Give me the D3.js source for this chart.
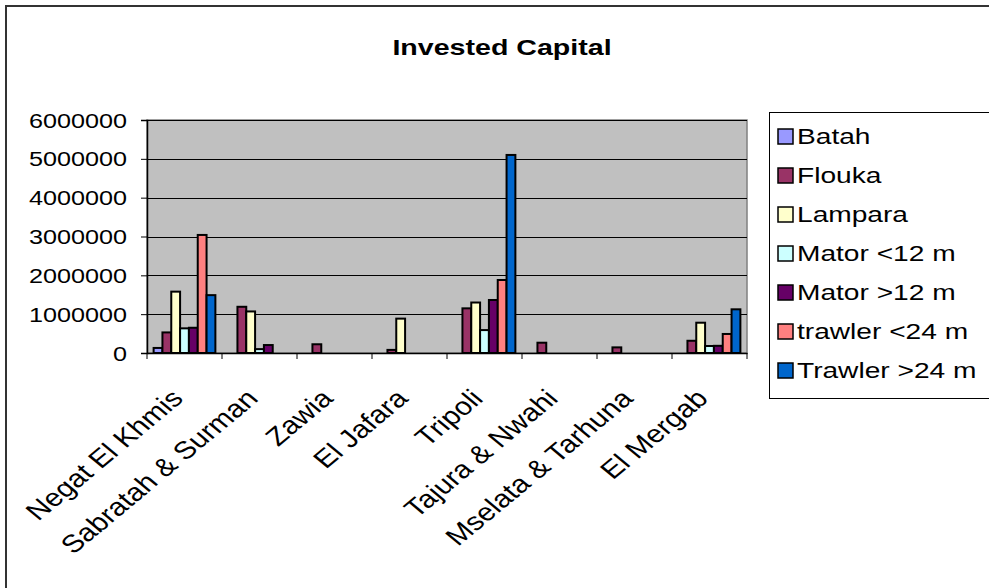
<!DOCTYPE html>
<html>
<head>
<meta charset="utf-8">
<script src="https://cdn.jsdelivr.net/npm/d3@7"></script>
<style>
  html, body { margin: 0; padding: 0; background: #fff; }
  svg { display: block; font-family: "Liberation Sans", Arial, sans-serif; }
</style>
</head>
<body>
<svg id="chart" width="989" height="588"></svg>
<script>
// Regions along the x axis
const regions = ["Negat El Khmis", "Sabratah & Surman", "Zawia", "El Jafara",
                 "Tripoli", "Tajura & Nwahi", "Mselata & Tarhuna", "El Mergab"];

// Vessel types (series)
const vesselTypes = ["Batah", "Flouka", "Lampara", "Mator <12 m", "Mator >12 m",
                     "trawler <24 m", "Trawler >24 m"];

// Invested capital per region, one array per vessel type
const batah        = [130000, 0, 0, 0, 0, 0, 0, 0];
const flouka       = [530000, 1190000, 225000, 80000, 1150000, 265000, 145000, 315000];
const lampara      = [1580000, 1070000, 0, 885000, 1300000, 0, 0, 780000];
const matorSmall   = [635000, 100000, 0, 0, 590000, 0, 0, 180000];
const matorLarge   = [650000, 205000, 0, 0, 1365000, 0, 0, 185000];
const trawlerSmall = [3040000, 0, 0, 0, 1880000, 0, 0, 490000];
const trawlerLarge = [1490000, 0, 0, 0, 5100000, 0, 0, 1125000];

const yTicks = [0, 1000000, 2000000, 3000000, 4000000, 5000000, 6000000];

const seriesValues = [batah, flouka, lampara, matorSmall, matorLarge, trawlerSmall, trawlerLarge];
const colors = ["#9999FF", "#993366", "#FFFFCC", "#CCFFFF", "#660066", "#FF8080", "#0066CC"];

const svg = d3.select("#chart");
const TEXT_STRETCH = 1.2;

// Outer chart frame
svg.append("rect")
  .attr("x", 6).attr("y", 6).attr("width", 1000).attr("height", 600)
  .attr("fill", "#fff").attr("stroke", "#333").attr("stroke-width", 2);

// Plot area
const plot = { left: 147, right: 747, top: 120, bottom: 353 };

const x0 = d3.scaleBand().domain(regions).range([plot.left, plot.right]).padding(0);
const x1 = d3.scaleBand().domain(vesselTypes).range([0, x0.bandwidth()])
  .paddingInner(0).paddingOuter(0.75);
const y = d3.scaleLinear().domain([0, 6000000]).range([plot.bottom, plot.top]);

svg.append("rect")
  .attr("x", plot.left).attr("y", plot.top)
  .attr("width", plot.right - plot.left).attr("height", plot.bottom - plot.top)
  .attr("fill", "#C0C0C0").attr("stroke", "#808080").attr("stroke-width", 1.5);

// Horizontal gridlines
svg.append("g").selectAll("line")
  .data(yTicks.filter(d => d > 0))
  .join("line")
  .attr("x1", plot.left).attr("x2", plot.right)
  .attr("y1", d => Math.round(y(d)) + 0.5).attr("y2", d => Math.round(y(d)) + 0.5)
  .attr("stroke", "#000").attr("stroke-width", 1);

// Bars
const groups = svg.append("g").selectAll("g")
  .data(regions)
  .join("g")
  .attr("transform", d => `translate(${x0(d)},0)`);

groups.selectAll("rect")
  .data((region, ri) => vesselTypes.map((t, si) => ({ type: t, si, value: seriesValues[si][ri] })))
  .join("rect")
  .filter(d => d.value > 0)
  .attr("x", d => x1(d.type))
  .attr("y", d => y(d.value))
  .attr("width", x1.bandwidth())
  .attr("height", d => y(0) - y(d.value))
  .attr("fill", d => colors[d.si])
  .attr("stroke", "#000").attr("stroke-width", 2);

// Y axis
const yAxis = svg.append("g")
  .attr("transform", `translate(${plot.left},0)`)
  .call(d3.axisLeft(y).tickValues(yTicks).tickSize(6).tickFormat(""));
yAxis.select(".domain").attr("stroke", "#000").attr("stroke-width", 1.5);
yAxis.selectAll(".tick line").attr("stroke", "#000");

svg.append("g").selectAll("g")
  .data(yTicks)
  .join("g")
  .attr("transform", d => `translate(127,${y(d)}) scale(${TEXT_STRETCH},1)`)
  .append("text")
  .attr("text-anchor", "end").attr("dy", "0.36em")
  .attr("font-size", 21).attr("fill", "#000")
  .text(d => d3.format("d")(d));

// X axis
const xAxis = svg.append("g")
  .attr("transform", `translate(0,${plot.bottom})`)
  .call(d3.axisBottom(x0).tickSize(0).tickFormat(""));
xAxis.select(".domain").attr("stroke", "#000").attr("stroke-width", 1.5);

// Category dividers below the axis
svg.append("g").selectAll("line")
  .data(d3.range(regions.length + 1))
  .join("line")
  .attr("x1", i => plot.left + i * x0.step()).attr("x2", i => plot.left + i * x0.step())
  .attr("y1", plot.bottom).attr("y2", plot.bottom + 6)
  .attr("stroke", "#000");

// Rotated region labels
svg.append("g").selectAll("g")
  .data(regions)
  .join("g")
  .attr("transform", d => `translate(${x0(d) + x0.bandwidth() / 2},${plot.bottom + 47}) scale(${TEXT_STRETCH},1) rotate(-45)`)
  .append("text")
  .attr("text-anchor", "end")
  .attr("font-size", 25).attr("fill", "#000")
  .text(d => d);

// Title
svg.append("g")
  .attr("transform", `translate(502,55) scale(1.3,1)`)
  .append("text")
  .attr("text-anchor", "middle")
  .attr("font-size", 22).attr("font-weight", "bold").attr("fill", "#000")
  .text("Invested Capital");

// Legend
const legend = svg.append("g");
legend.append("rect")
  .attr("x", 769.5).attr("y", 112.5).attr("width", 240).attr("height", 286)
  .attr("fill", "#fff").attr("stroke", "#000").attr("stroke-width", 1);

const items = legend.selectAll("g.item")
  .data(vesselTypes)
  .join("g")
  .attr("class", "item")
  .attr("transform", (d, i) => `translate(0,${136 + i * 39})`);

items.append("rect")
  .attr("x", 778).attr("y", -7).attr("width", 15).attr("height", 15)
  .attr("fill", (d, i) => colors[i]).attr("stroke", "#000").attr("stroke-width", 1.5);

items.append("g")
  .attr("transform", `translate(797,0) scale(1.25,1)`)
  .append("text")
  .attr("dy", "0.36em")
  .attr("font-size", 22.5).attr("fill", "#000")
  .text(d => d);
</script>
</body>
</html>
